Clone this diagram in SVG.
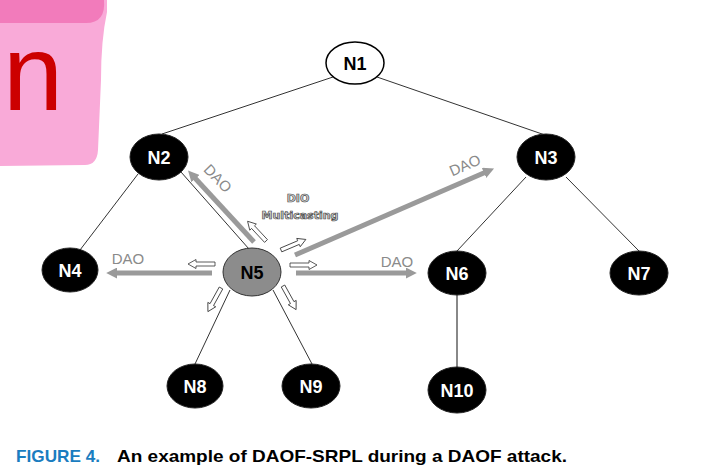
<svg xmlns="http://www.w3.org/2000/svg" xmlns:xlink="http://www.w3.org/1999/xlink" width="721" height="475" viewBox="0 0 721 475">
<style>
.edge{stroke:#333;stroke-width:1;fill:none}
.node{fill:#000;stroke:#222;stroke-width:1}
.lbl{font-family:"Liberation Sans",Arial,sans-serif;font-weight:bold;font-size:18px;fill:#fff;text-anchor:middle}
.dao{stroke:#9a9a9a;stroke-width:5;fill:none}
.daot{font-family:"Liberation Sans",Arial,sans-serif;font-size:15px;fill:#8a8a8a;text-anchor:middle}
.dio{font-family:"DejaVu Sans",sans-serif;font-weight:bold;font-size:11px;fill:#d0d0d0;stroke:#4a4a4a;stroke-width:0.7;text-anchor:middle}
.cap{font-family:"Liberation Sans",Arial,sans-serif;font-weight:bold;font-size:17px}
</style>
<defs>
<marker id="ah" viewBox="0 0 10 10" refX="2" refY="5" markerWidth="2.2" markerHeight="2.2" orient="auto">
<path d="M0,0 L10,5 L0,10 Z" fill="#9a9a9a"/>
</marker>
<path id="ha" d="M0,-2 L19,-2 L19,-4.5 L27,0 L19,4.5 L19,2 L0,2 Z" fill="#fff" stroke="#333" stroke-width="0.8"/>
</defs>
<rect width="721" height="475" fill="#fff"/>
<g id="highlight">
<path d="M0,0 L107,0 L107,12 Q101,40 101,80 L98,150 Q97,165 85,165 L0,166 Z" fill="#f9aad8"/>
<path d="M0,0 L104,0 Q106,23 86,23 L0,23 Z" fill="#f27bbb"/>
<text x="3" y="110" font-family="Liberation Sans,Arial,sans-serif" font-size="108" fill="#cc0000">n</text>
</g>
<g id="connectors">
<line class="edge" x1="333" y1="77" x2="162" y2="134"/>
<line class="edge" x1="377" y1="77" x2="545" y2="135"/>
<line class="edge" x1="138" y1="174" x2="80" y2="250"/>
<line class="edge" x1="181" y1="172" x2="249" y2="249"/>
<line class="edge" x1="526" y1="177" x2="457" y2="251"/>
<line class="edge" x1="566" y1="177" x2="639" y2="251"/>
<line class="edge" x1="230" y1="290" x2="195" y2="364"/>
<line class="edge" x1="273" y1="290" x2="312" y2="364"/>
<line x1="457" y1="295" x2="457" y2="368" stroke="#888" stroke-width="2"/>
<line class="dao" x1="254" y1="242" x2="194" y2="177" marker-end="url(#ah)"/>
<line class="dao" x1="295" y1="255" x2="486" y2="172" marker-end="url(#ah)"/>
<line class="dao" x1="296" y1="273" x2="408" y2="273" marker-end="url(#ah)"/>
<line class="dao" x1="212" y1="273" x2="115" y2="273" marker-end="url(#ah)"/>
<use xlink:href="#ha" transform="translate(266,241) rotate(-133)"/>
<use xlink:href="#ha" transform="translate(281,250) rotate(-23)"/>
<use xlink:href="#ha" transform="translate(290,265)"/>
<use xlink:href="#ha" transform="translate(215,264) rotate(180)"/>
<use xlink:href="#ha" transform="translate(221,288) rotate(119)"/>
<use xlink:href="#ha" transform="translate(283,286) rotate(61)"/>
<text class="daot" transform="translate(214,182) rotate(46)">DAO</text>
<text class="daot" transform="translate(467,170) rotate(-24)">DAO</text>
<text class="daot" x="397" y="267">DAO</text>
<text class="daot" x="128" y="264">DAO</text>
<text class="dio" x="298" y="202">DIO</text>
<text class="dio" x="300" y="219">Multicasting</text>
</g>
<g id="N1"><ellipse cx="355" cy="63" rx="29" ry="21" fill="#fff" stroke="#000" stroke-width="1.5"/><text class="lbl" x="355" y="70" style="fill:#000">N1</text></g>
<g id="N2"><ellipse class="node" cx="159" cy="157" rx="29" ry="23"/><text class="lbl" x="159" y="164">N2</text></g>
<g id="N3"><ellipse class="node" cx="546" cy="157" rx="29" ry="23"/><text class="lbl" x="546" y="164">N3</text></g>
<g id="N4"><ellipse class="node" cx="70" cy="270" rx="28" ry="22"/><text class="lbl" x="70" y="277">N4</text></g>
<g id="N5"><ellipse cx="252" cy="272" rx="29" ry="24" fill="#8c8c8c" stroke="#333" stroke-width="1"/><text class="lbl" x="252" y="279" style="fill:#000">N5</text></g>
<g id="N6"><ellipse class="node" cx="457" cy="273" rx="29" ry="22"/><text class="lbl" x="457" y="280">N6</text></g>
<g id="N7"><ellipse class="node" cx="639" cy="273" rx="29" ry="22"/><text class="lbl" x="639" y="280">N7</text></g>
<g id="N8"><ellipse class="node" cx="195" cy="386" rx="28" ry="22"/><text class="lbl" x="195" y="393">N8</text></g>
<g id="N9"><ellipse class="node" cx="311" cy="386" rx="29" ry="22"/><text class="lbl" x="311" y="393">N9</text></g>
<g id="N10"><ellipse class="node" cx="457" cy="390" rx="29" ry="23"/><text class="lbl" x="457" y="397">N10</text></g>
<g id="caption">
<text class="cap" x="16" y="462" fill="#1a7dc0" textLength="84" lengthAdjust="spacingAndGlyphs">FIGURE 4.</text>
<text class="cap" x="117" y="462" fill="#000" textLength="450" lengthAdjust="spacingAndGlyphs">An example of DAOF-SRPL during a DAOF attack.</text>
</g>
</svg>
